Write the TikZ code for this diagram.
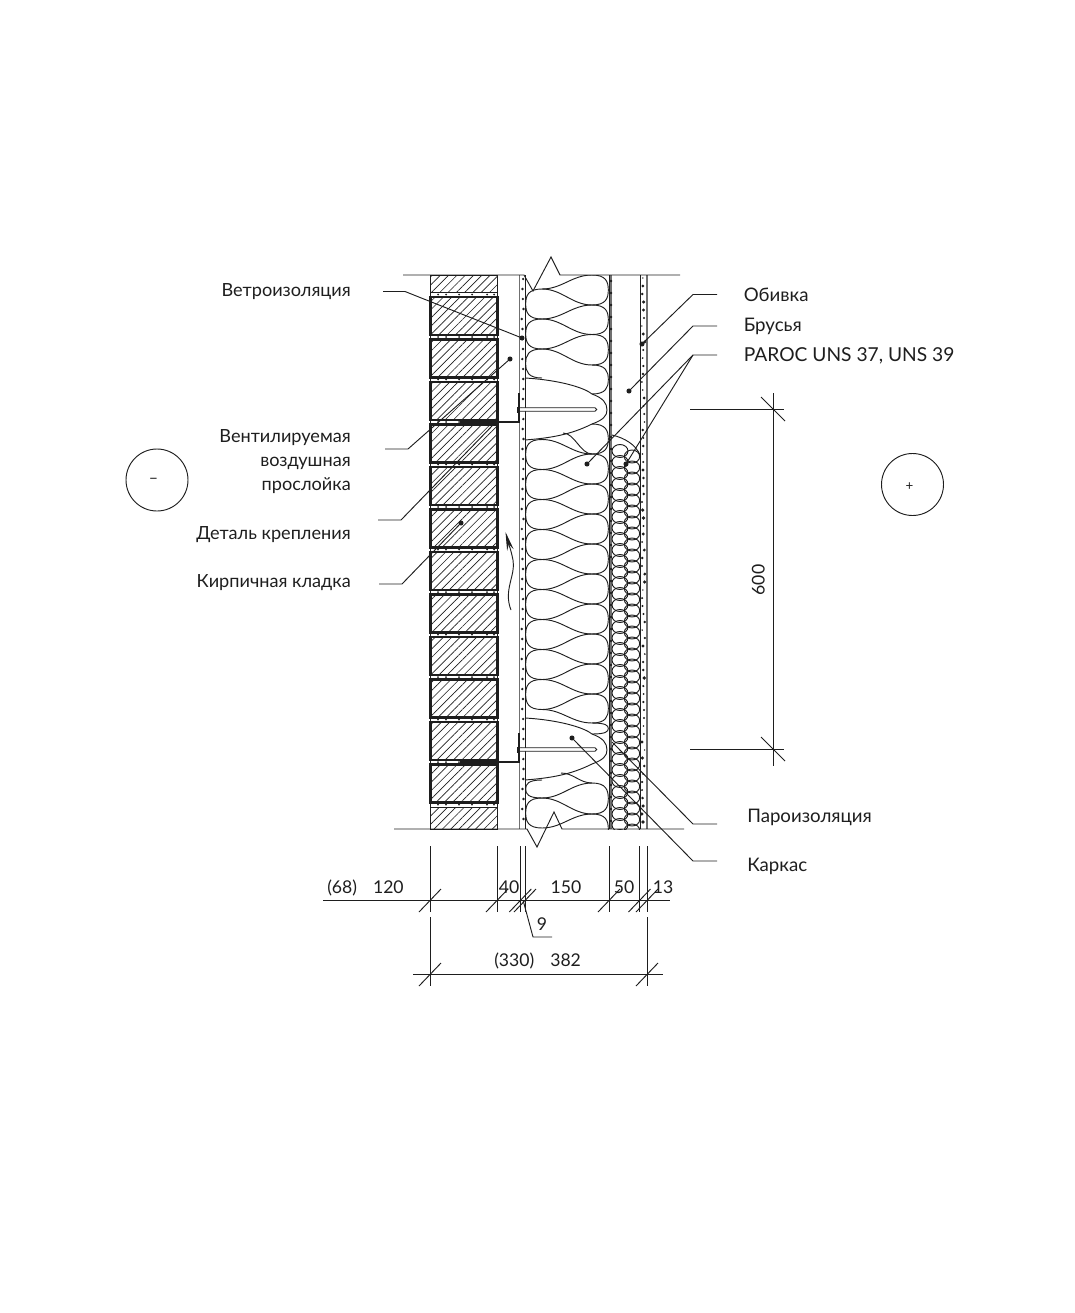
\documentclass[tikz,border=0pt]{standalone}
\usepackage{fontspec}
\setmainfont{Lato}
\usetikzlibrary{patterns.meta,arrows.meta}
\definecolor{ink}{HTML}{1E1E1E}
\definecolor{layergray}{HTML}{707070}
\tikzset{
	thinline/.style={draw=ink,line width=.7pt},
	wool/.style={draw=ink,line width=.7pt},
	leader/.style={draw=ink,line width=.7pt},
	brick/.style={draw=ink,line width=1.9pt,pattern={Lines[angle=45,distance=4.4pt,line width=.5pt]},pattern color=ink},
	cutbrick/.style={draw=ink,line width=.6pt,pattern={Lines[angle=45,distance=4.4pt,line width=.5pt]},pattern color=ink},
	lbl/.style={font=\fontsize{13.6}{16}\selectfont,text=ink,inner sep=0pt,text height=10pt,text depth=3pt,yshift=-1.5pt},
	lblr/.style={lbl,font=\fontsize{14}{16}\selectfont},
	dimlbl/.style={font=\fontsize{13.2}{16}\selectfont,text=ink,inner sep=0pt,text height=10pt,text depth=3pt,yshift=-1.5pt},
}
% wool lobes and strands
\newcommand{\lobe}[4]{\draw[wool] (#1,{#3}) .. controls ({#2+.15*(#1-#2)},{#3}) and (#2,{(#3)*.78+(#4)*.22}) .. (#2,{(#3)*.5+(#4)*.5}) .. controls (#2,{(#3)*.22+(#4)*.78}) and ({#2+.15*(#1-#2)},{#4}) .. (#1,{#4});}
\newcommand{\strand}[4]{\draw[wool] (#1,{#3}) .. controls ({#1*.6+#2*.4},{#3}) and ({#1*.4+#2*.6},{#4}) .. (#2,{#4});}
\begin{document}
\begin{tikzpicture}[x=.75pt,y=-.75pt]
	\useasboundingbox (0,0) rectangle (1074,1313);
	% Bricks
	\foreach \y in {297,339.5,382,424.5,467,509.5,552,594.5,637,679.5,722,764.5} {
		\path[brick] (430.5,\y) rectangle (497.5,\y+38);
	}
	\path[cutbrick] (430.5,275) rectangle (497,292);
	\path[cutbrick] (430.5,807) rectangle (497,829);
	% Mortar dots
	\foreach \y in {294.5,337,379.5,422,464.5,507,549.5,592,634.5,677,719.5,762,804.5} {
		\foreach \x in {438,446,459,472,487,494} {
			\fill[ink] (\x,\y) circle (.75pt);
		}
	}
	\foreach \y in {292,334,377,419,462,504,547,589,632,674,717,759,802} {
		\draw[thinline] (430.5,\y) -- (430.5,\y+6);
		\draw[thinline] (497,\y) -- (497,\y+6);
	}
	% Layers
	\draw[layergray,line width=1.1pt] (519.7,275) -- (519.7,829);
	\draw[thinline] (525,275) -- (525,829);
	\draw[thinline] (609,275) -- (609,829);
	\fill[layergray] (610,275) rectangle (612,829);
	\draw[thinline] (640,275) -- (640,829);
	\draw[layergray,line width=1.2pt] (646.7,275) -- (646.7,829);
	\pgfmathsetseed{37}
	\foreach \y in {279,289,...,827} {
		\pgfmathsetmacro{\dx}{521.6+2*rnd}
		\fill[ink] (\dx,\y) circle (1pt);
	}
	\foreach \y in {281,293,...,827} {
		\fill[ink] (611,\y) circle (1.1pt);
	}
	\foreach \y in {278,286,...,827} {
		\pgfmathsetmacro{\dx}{641.8+3*rnd}
		\pgfmathsetmacro{\ds}{.6+.8*rnd}
		\fill[ink] (\dx,\y) circle (\ds pt);
	}
	% Wool 150
	\begin{scope}
		\clip (524,275) rectangle (610,829);
		\foreach \a/\b in {289/319,319/349,349/378,780/798,798/828} {
			\lobe{542}{525.7}{\a}{\b}
		}
		\foreach \k in {0,...,8} {
			\lobe{542}{525.7}{439.5+30*\k}{469.5+30*\k}
		}
		\foreach \a/\b in {275/305,305/334.5,334.5/365,365/394,694/723,723/734,783/814,814/844} {
			\lobe{592}{608.3}{\a}{\b}
		}
		\foreach \k in {0,...,8} {
			\lobe{592}{608.3}{424+30*\k}{454+30*\k}
		}
		\foreach \a/\b in {289/275,289/305,319/305,319/334.5,349/334.5,349/365,709.5/694,709.5/723,798/783,798/814,828/814} {
			\strand{542}{592}{\a}{\b}
		}
		\foreach \k in {0,...,8} {
			\strand{542}{592}{439.5+30*\k}{454+30*\k}
		}
		\foreach \k in {1,...,8} {
			\strand{542}{592}{439.5+30*\k}{424+30*\k}
		}
		\strand{563}{592}{433}{454}
		\strand{561}{592}{773}{783}
	\end{scope}
	% Anchors
	\foreach \dy in {0,340} {
		\draw[wool] (525,378+\dy) .. controls (560,380+\dy) and (585,388+\dy) .. (592,394+\dy) .. controls (603,398+\dy) and (607,403+\dy) .. (607,410+\dy) .. controls (607,416+\dy) and (603,420+\dy) .. (592,424+\dy) .. controls (570,435+\dy) and (550,438+\dy) .. (525,440+\dy);
		\draw[ink,line width=1.6pt] (460,422+\dy) -- (519,422+\dy) -- (519,393+\dy);
		\fill[ink] (516.5,406.5+\dy) rectangle (520,413+\dy);
		\draw[ink,line width=.6pt,fill=white] (520,407.8+\dy) -- (595,407.8+\dy) arc[start angle=-90,end angle=90,radius=1.7] -- (520,411.2+\dy);
	}
	% Wool 50
	\begin{scope}
		\clip (611,434) rectangle (640,829);
		\draw[wool] (612,435) .. controls (625,438) and (636,445) .. (640,455);
		\foreach \k in {0,...,35} {
			\draw[wool] (620,451+11*\k) ellipse [x radius=8,y radius=6.5];
			\draw[wool] (632,456.5+11*\k) ellipse [x radius=7.7,y radius=6.5];
		}
	\end{scope}
	% Section lines
	\coordinate (topA) at (403,275);
	\coordinate (topB) at (524,275);
	\coordinate (topC) at (533,291);
	\coordinate (topD) at (551,257);
	\coordinate (topE) at (560,275);
	\coordinate (topF) at (680,275);
	\draw[thinline] (topA) -- (topB) -- (topC) -- (topD) -- (topE) -- (topF);
	\coordinate (botA) at (394,829);
	\coordinate (botB) at (527,829);
	\coordinate (botC) at (537,847);
	\coordinate (botD) at (554,812);
	\coordinate (botE) at (562,829);
	\coordinate (botF) at (684,829);
	\draw[thinline] (botA) -- (botB) -- (botC) -- (botD) -- (botE) -- (botF);
	% Air flow
	\coordinate (airEnd) at (511,610);
	\coordinate (airTip) at (505.5,532);
	\draw[ink,line width=.7pt,-{Stealth[length=14pt,width=5pt]}] (airEnd) .. controls (503,590) and (516,575) .. (513,560) .. controls (511,550) and (509,545) .. (airTip);
	% Labels on the left
	\node[lbl,anchor=east] (vetroLbl) at (351,290) {Ветроизоляция};
	\node[lbl,anchor=east] (ventLblA) at (351,436) {Вентилируемая};
	\node[lbl,anchor=east] (ventLblB) at (351,460) {воздушная};
	\node[lbl,anchor=east] (ventLblC) at (351,484) {прослойка};
	\node[lbl,anchor=east] (fixLbl) at (351,533) {Деталь крепления};
	\node[lbl,anchor=east] (brickLbl) at (351,581) {Кирпичная кладка};
	% Labels on the right
	\node[lblr,anchor=west] (cladLbl) at (743.5,295) {Обивка};
	\node[lblr,anchor=west] (beamLbl) at (743.5,325) {Брусья};
	\node[lbl,font=\fontsize{14.4}{16}\selectfont,anchor=west] (parocLbl) at (743.5,355) {PAROC UNS 37, UNS 39};
	\node[lblr,anchor=west] (vapourLbl) at (747,816) {Пароизоляция};
	\node[lblr,anchor=west] (frameLbl) at (747,865) {Каркас};
	% Leaders
	\coordinate (vetroA) at (383,291.5);
	\coordinate (vetroB) at (405,291.5);
	\coordinate (vetroC) at (522,338);
	\draw[leader] (vetroA) -- (vetroB) -- (vetroC);
	\coordinate (ventA) at (385,449);
	\coordinate (ventB) at (408,449);
	\coordinate (ventC) at (510,359);
	\draw[leader] (ventA) -- (ventB) -- (ventC);
	\coordinate (fixA) at (378,520);
	\coordinate (fixB) at (401,520);
	\coordinate (fixC) at (493,425);
	\draw[leader] (fixA) -- (fixB) -- (fixC);
	\coordinate (brickA) at (379,584);
	\coordinate (brickB) at (402,584);
	\coordinate (brickC) at (461,523);
	\draw[leader] (brickA) -- (brickB) -- (brickC);
	\coordinate (cladA) at (717,294.5);
	\coordinate (cladB) at (693,294.5);
	\coordinate (cladC) at (642,344);
	\draw[leader] (cladA) -- (cladB) -- (cladC);
	\coordinate (beamA) at (717,326);
	\coordinate (beamB) at (693,326);
	\coordinate (beamC) at (629,391);
	\draw[leader] (beamA) -- (beamB) -- (beamC);
	\coordinate (parocA) at (717,355);
	\coordinate (parocB) at (693,355);
	\coordinate (parocC) at (587,464);
	\coordinate (parocD) at (626,464);
	\draw[leader] (parocA) -- (parocB) -- (parocC);
	\draw[leader] (parocB) -- (parocD);
	\coordinate (vapourA) at (717,824);
	\coordinate (vapourB) at (693,824);
	\coordinate (vapourC) at (612,742);
	\draw[leader] (vapourA) -- (vapourB) -- (vapourC);
	\coordinate (frameA) at (717,861);
	\coordinate (frameB) at (693,861);
	\coordinate (frameC) at (572,738);
	\draw[leader] (frameA) -- (frameB) -- (frameC);
	\foreach \p in {vetroC,ventC,brickC,cladC,beamC,parocC,parocD,frameC} {
		\fill[ink] (\p) circle (1.9pt);
	}
	% Outside and inside
	\node[draw=ink,line width=.7pt,circle,minimum size=46.5pt,inner sep=0pt] (outside) at (157,480) {};
	\node[text=ink,inner sep=0pt,font=\fontsize{12}{14}\selectfont] (outsideLbl) at (153.5,481) {–};
	\node[draw=ink,line width=.7pt,circle,minimum size=46.5pt,inner sep=0pt] (inside) at (912.5,484.5) {};
	\node[text=ink,inner sep=0pt,font=\fontsize{10}{12}\selectfont] (insideLbl) at (909.5,487) {+};
	% Spacing 600
	\draw[thinline] (690,409) -- (784,409);
	\draw[thinline] (690,749) -- (784,749);
	\draw[thinline] (773,393) -- (773,766);
	\draw[thinline] (761,397) -- (785,421);
	\draw[thinline] (761,737) -- (785,761);
	\node[dimlbl,rotate=90] (stepLbl) at (760,578) {600};
	% Dimensions
	\draw[thinline] (323,900.5) -- (670,900.5);
	\foreach \x in {430,497,520.3,525,609,639.5,647} {
		\draw[thinline] (\x,846) -- (\x,912);
		\draw[thinline] (\x-11,912) -- (\x+11,889);
	}
	\node[dimlbl,anchor=west] (dimA) at (327,887) {(68)\hspace{12pt}120};
	\node[dimlbl] (dimB) at (509,887) {40};
	\node[dimlbl] (dimC) at (566,887) {150};
	\node[dimlbl] (dimD) at (624,887) {50};
	\node[dimlbl] (dimE) at (663,887) {13};
	\node[dimlbl] (dimF) at (542,924) {9};
	\coordinate (nineA) at (523,900);
	\coordinate (nineB) at (533,937);
	\coordinate (nineC) at (552,937);
	\draw[thinline] (nineA) -- (nineB) -- (nineC);
	\draw[thinline] (413,974) -- (663,974);
	\foreach \x in {430,647} {
		\draw[thinline] (\x,917) -- (\x,986);
		\draw[thinline] (\x-11,986) -- (\x+11,963);
	}
	\node[dimlbl,anchor=west] (dimG) at (494,960) {(330)\hspace{12pt}382};
\end{tikzpicture}
\end{document}
